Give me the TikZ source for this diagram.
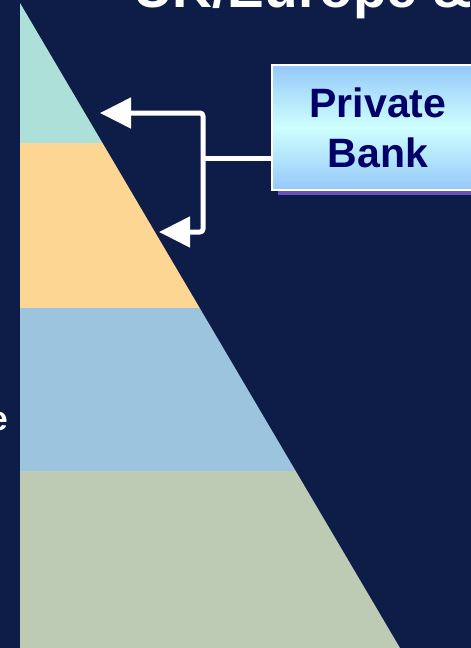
\documentclass[tikz,border=0pt]{standalone}
\usepackage{fontspec}
\setmainfont{Liberation Sans}
\usetikzlibrary{arrows.meta}
\definecolor{bgnavy}{RGB}{14,29,71}
\definecolor{bandteal}{RGB}{173,224,217}
\definecolor{bandorange}{RGB}{253,214,148}
\definecolor{bandblue}{RGB}{156,196,222}
\definecolor{bandgreen}{RGB}{190,203,180}
\definecolor{boxblue}{RGB}{150,200,250}
\definecolor{boxcyan}{RGB}{205,255,255}
\definecolor{boxtext}{RGB}{0,0,102}
\definecolor{shadowpurple}{RGB}{102,85,187}
\tikzset{
  conn/.style={draw=white, line width=5pt, rounded corners=3pt, line join=round},
  bigtri/.tip={Triangle[length=31pt,width=30pt]},
  boxstyle/.style={draw=white, line width=1.2pt, top color=boxblue, bottom color=boxblue, middle color=boxcyan,
    minimum width=212pt, minimum height=125pt, inner sep=0pt, align=center, text=boxtext,
    font=\bfseries\fontsize{41}{50}\selectfont},
  whitetext/.style={text=white, inner sep=0pt, font=\bfseries}
}
\begin{document}
\begin{tikzpicture}[x=1pt,y=-1pt]
\useasboundingbox (0,0) rectangle (471,648);
\clip (0,0) rectangle (471,648);
\fill[bgnavy] (0,0) rectangle (471,648);
% pyramid bands
\fill[bandteal] (20,3) -- (102.5,143) -- (20,143) -- cycle;
\fill[bandorange] (20,143) -- (102.5,143) -- (199.7,308) -- (20,308) -- cycle;
\fill[bandblue] (20,308) -- (199.7,308) -- (295.7,471) -- (20,471) -- cycle;
\fill[bandgreen] (20,471) -- (295.7,471) -- (400,648) -- (20,648) -- cycle;
% title and side text
\node[whitetext, anchor=base west, font=\bfseries\fontsize{55}{60}\selectfont] (title) at (133,7) {UK/Europe \&};
\node[whitetext, anchor=base east, font=\bfseries\fontsize{34}{40}\selectfont] (side) at (8,430) {e};
% box
\fill[shadowpurple] (278,190) rectangle (490,195);
\node[boxstyle] (pb) at (378,127.5) {Private\\Bank};
% connectors
\coordinate (j) at (203,158);
\coordinate (tipA) at (100,113);
\coordinate (tipB) at (159,232);
\coordinate (cA) at (203,113);
\coordinate (cB) at (203,232);
\draw[conn] (j -| pb.west) -- (j);
\draw[conn, bigtri-bigtri] (tipA) -- (cA) -- (cB) -- (tipB);
\end{tikzpicture}
\end{document}
